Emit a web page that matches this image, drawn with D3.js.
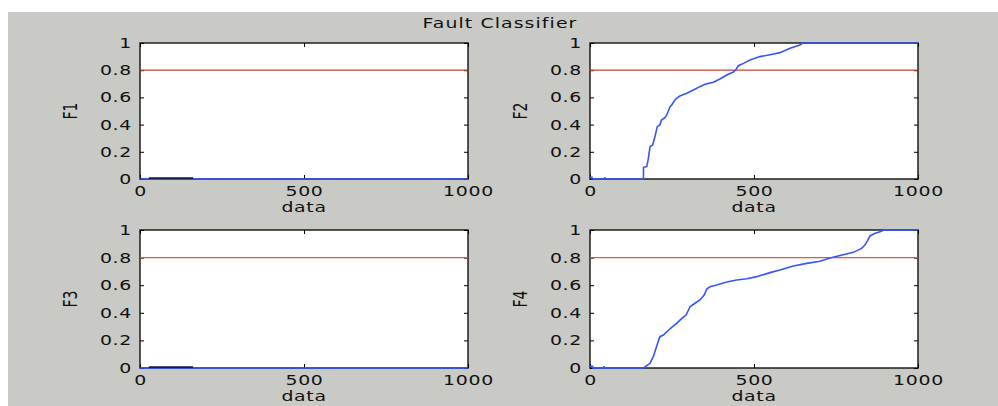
<!DOCTYPE html>
<html>
<head>
<meta charset="utf-8">
<script src="https://cdn.jsdelivr.net/npm/d3@7"></script>
<style>
  body { margin: 0; background: #fff; }
  text { font-family: "DejaVu Sans", sans-serif; font-size: 14px; fill: #111; }
</style>
</head>
<body>
<div class="container"></div>
<script>
let xTicks = [0, 500, 1000];
let yTicks = [0, 0.2, 0.4, 0.6, 0.8, 1];
let threshold = 0.8;
let panelNames = ["F1", "F2", "F3", "F4"];
let xLabel = "data";
let title = "Fault Classifier";

let f1Line = [[0, 0], [1000, 0]];
let f1Marks = [[27, 0.006], [162, 0.006]];
let f3Line = [[0, 0], [1000, 0]];
let f3Marks = [[27, 0.006], [162, 0.006]];
let f2Line = [[0, 0.012], [6, 0.012], [6, 0], [163, 0], [163, 0.086], [173, 0.091], [178, 0.152], [183, 0.238],
  [191, 0.25], [198, 0.311], [205, 0.385], [213, 0.397], [218, 0.434], [229, 0.453], [234, 0.471], [244, 0.532],
  [249, 0.544], [259, 0.581], [264, 0.593], [274, 0.61], [295, 0.63], [315, 0.654], [335, 0.679], [351, 0.696],
  [376, 0.711], [396, 0.735], [417, 0.765], [437, 0.787], [444, 0.801], [452, 0.833], [468, 0.85], [488, 0.875],
  [518, 0.9], [549, 0.914], [579, 0.929], [610, 0.961], [640, 0.985], [648, 1], [1000, 1]];
let f2Marks = [[43, 0.008], [48, 0.008]];
let f4Line = [[0, 0.012], [8, 0.012], [8, 0], [163, 0], [173, 0.017], [183, 0.034], [193, 0.082], [203, 0.155],
  [213, 0.227], [224, 0.239], [234, 0.263], [249, 0.295], [264, 0.324], [280, 0.36], [293, 0.384], [305, 0.444],
  [320, 0.469], [335, 0.493], [348, 0.529], [356, 0.572], [366, 0.589], [386, 0.601], [417, 0.623], [447, 0.638],
  [478, 0.647], [508, 0.662], [549, 0.691], [579, 0.71], [620, 0.739], [661, 0.758], [701, 0.773], [732, 0.797],
  [772, 0.821], [803, 0.838], [828, 0.867], [838, 0.891], [846, 0.923], [854, 0.957], [869, 0.976], [884, 0.988],
  [896, 1], [1000, 1]];
let f4Marks = [[40, 0.008], [45, 0.008]];

let lines = [f1Line, f2Line, f3Line, f4Line];
let marks = [f1Marks, f2Marks, f3Marks, f4Marks];
let markColors = ["#14184a", "#3355ff", "#14184a", "#3355ff"];
let redColors = ["#c8432c", "#c8432c", "#f2522e", "#f2522e"];

let width = 998, height = 406;
let panels = [
  {x: 140, y: 43, w: 328, h: 136},
  {x: 590, y: 43, w: 328, h: 136},
  {x: 140, y: 230, w: 328, h: 138},
  {x: 590, y: 230, w: 328, h: 138}
];
let stretch = 1.35;

let svg = d3.select(".container").append("svg")
    .attr("width", width)
    .attr("height", height);

svg.append("rect")
    .attr("x", 8).attr("y", 12)
    .attr("width", width - 8).attr("height", height - 12)
    .style("fill", "#c9cac6");

svg.append("text")
    .text(title)
    .attr("text-anchor", "middle")
    .attr("transform", "translate(500,28) scale(" + stretch + ",1)")
    .style("letter-spacing", "0.8px");

panels.forEach((p, i) => {
  let x = d3.scaleLinear().domain([0, 1000]).range([0, p.w]);
  let y = d3.scaleLinear().domain([0, 1]).range([p.h, 0]);

  let g = svg.append("g")
      .attr("transform", "translate(" + p.x + "," + p.y + ")");

  g.append("rect")
      .attr("width", p.w).attr("height", p.h)
      .style("fill", "#fff")
      .style("stroke", "#111")
      .style("stroke-width", 1.4);

  g.append("g")
      .attr("class", "xaxis")
      .attr("transform", "translate(0," + p.h + ")")
      .call(d3.axisBottom(x).tickValues(xTicks).tickSize(-4).tickSizeOuter(0).tickPadding(7)
        .tickFormat(d3.format("d")));
  g.append("g")
      .attr("class", "yaxis")
      .call(d3.axisLeft(y).tickValues(yTicks).tickSize(-4).tickSizeOuter(0)
        .tickFormat(d => (d == 0 || d == 1) ? d : d.toFixed(1)));
  g.append("g")
      .call(d3.axisTop(x).tickValues(xTicks).tickSize(-4).tickSizeOuter(0).tickFormat(""));
  g.append("g")
      .attr("transform", "translate(" + p.w + ",0)")
      .call(d3.axisRight(y).tickValues(yTicks).tickSize(-4).tickSizeOuter(0).tickFormat(""));

  g.selectAll(".tick line").style("stroke", "#000");
  g.selectAll(".domain").remove();
  g.selectAll(".tick text")
      .attr("transform", "scale(" + stretch + ",1)")
      .style("font-family", "DejaVu Sans")
      .style("font-size", "14px")
      .style("fill", "#111")
      .style("letter-spacing", "0.5px");
  g.selectAll(".yaxis .tick text").attr("x", -8 / stretch);

  let line = d3.line().x(d => x(d[0])).y(d => y(d[1]));

  g.append("path")
      .datum([[0, threshold], [1000, threshold]])
      .attr("d", line)
      .style("fill", "none")
      .style("stroke", redColors[i])
      .style("stroke-width", 1.2);

  g.append("path")
      .datum(lines[i])
      .attr("d", line)
      .style("fill", "none")
      .style("stroke", "#3355ff")
      .style("stroke-width", 1.6);

  g.append("path")
      .datum(marks[i])
      .attr("d", line)
      .style("fill", "none")
      .style("stroke", markColors[i])
      .style("stroke-width", 1.8);

  g.append("text")
      .text(xLabel)
      .attr("text-anchor", "middle")
      .attr("transform", "translate(" + (p.w / 2) + "," + (p.h + 33) + ") scale(" + stretch + ",1)")
      .style("letter-spacing", "0.5px");

  g.append("text")
      .text(panelNames[i])
      .attr("text-anchor", "middle")
      .attr("transform", "translate(-63," + (p.h / 2) + ") rotate(-90) scale(1,1.35)");
});
</script>
</body>
</html>
